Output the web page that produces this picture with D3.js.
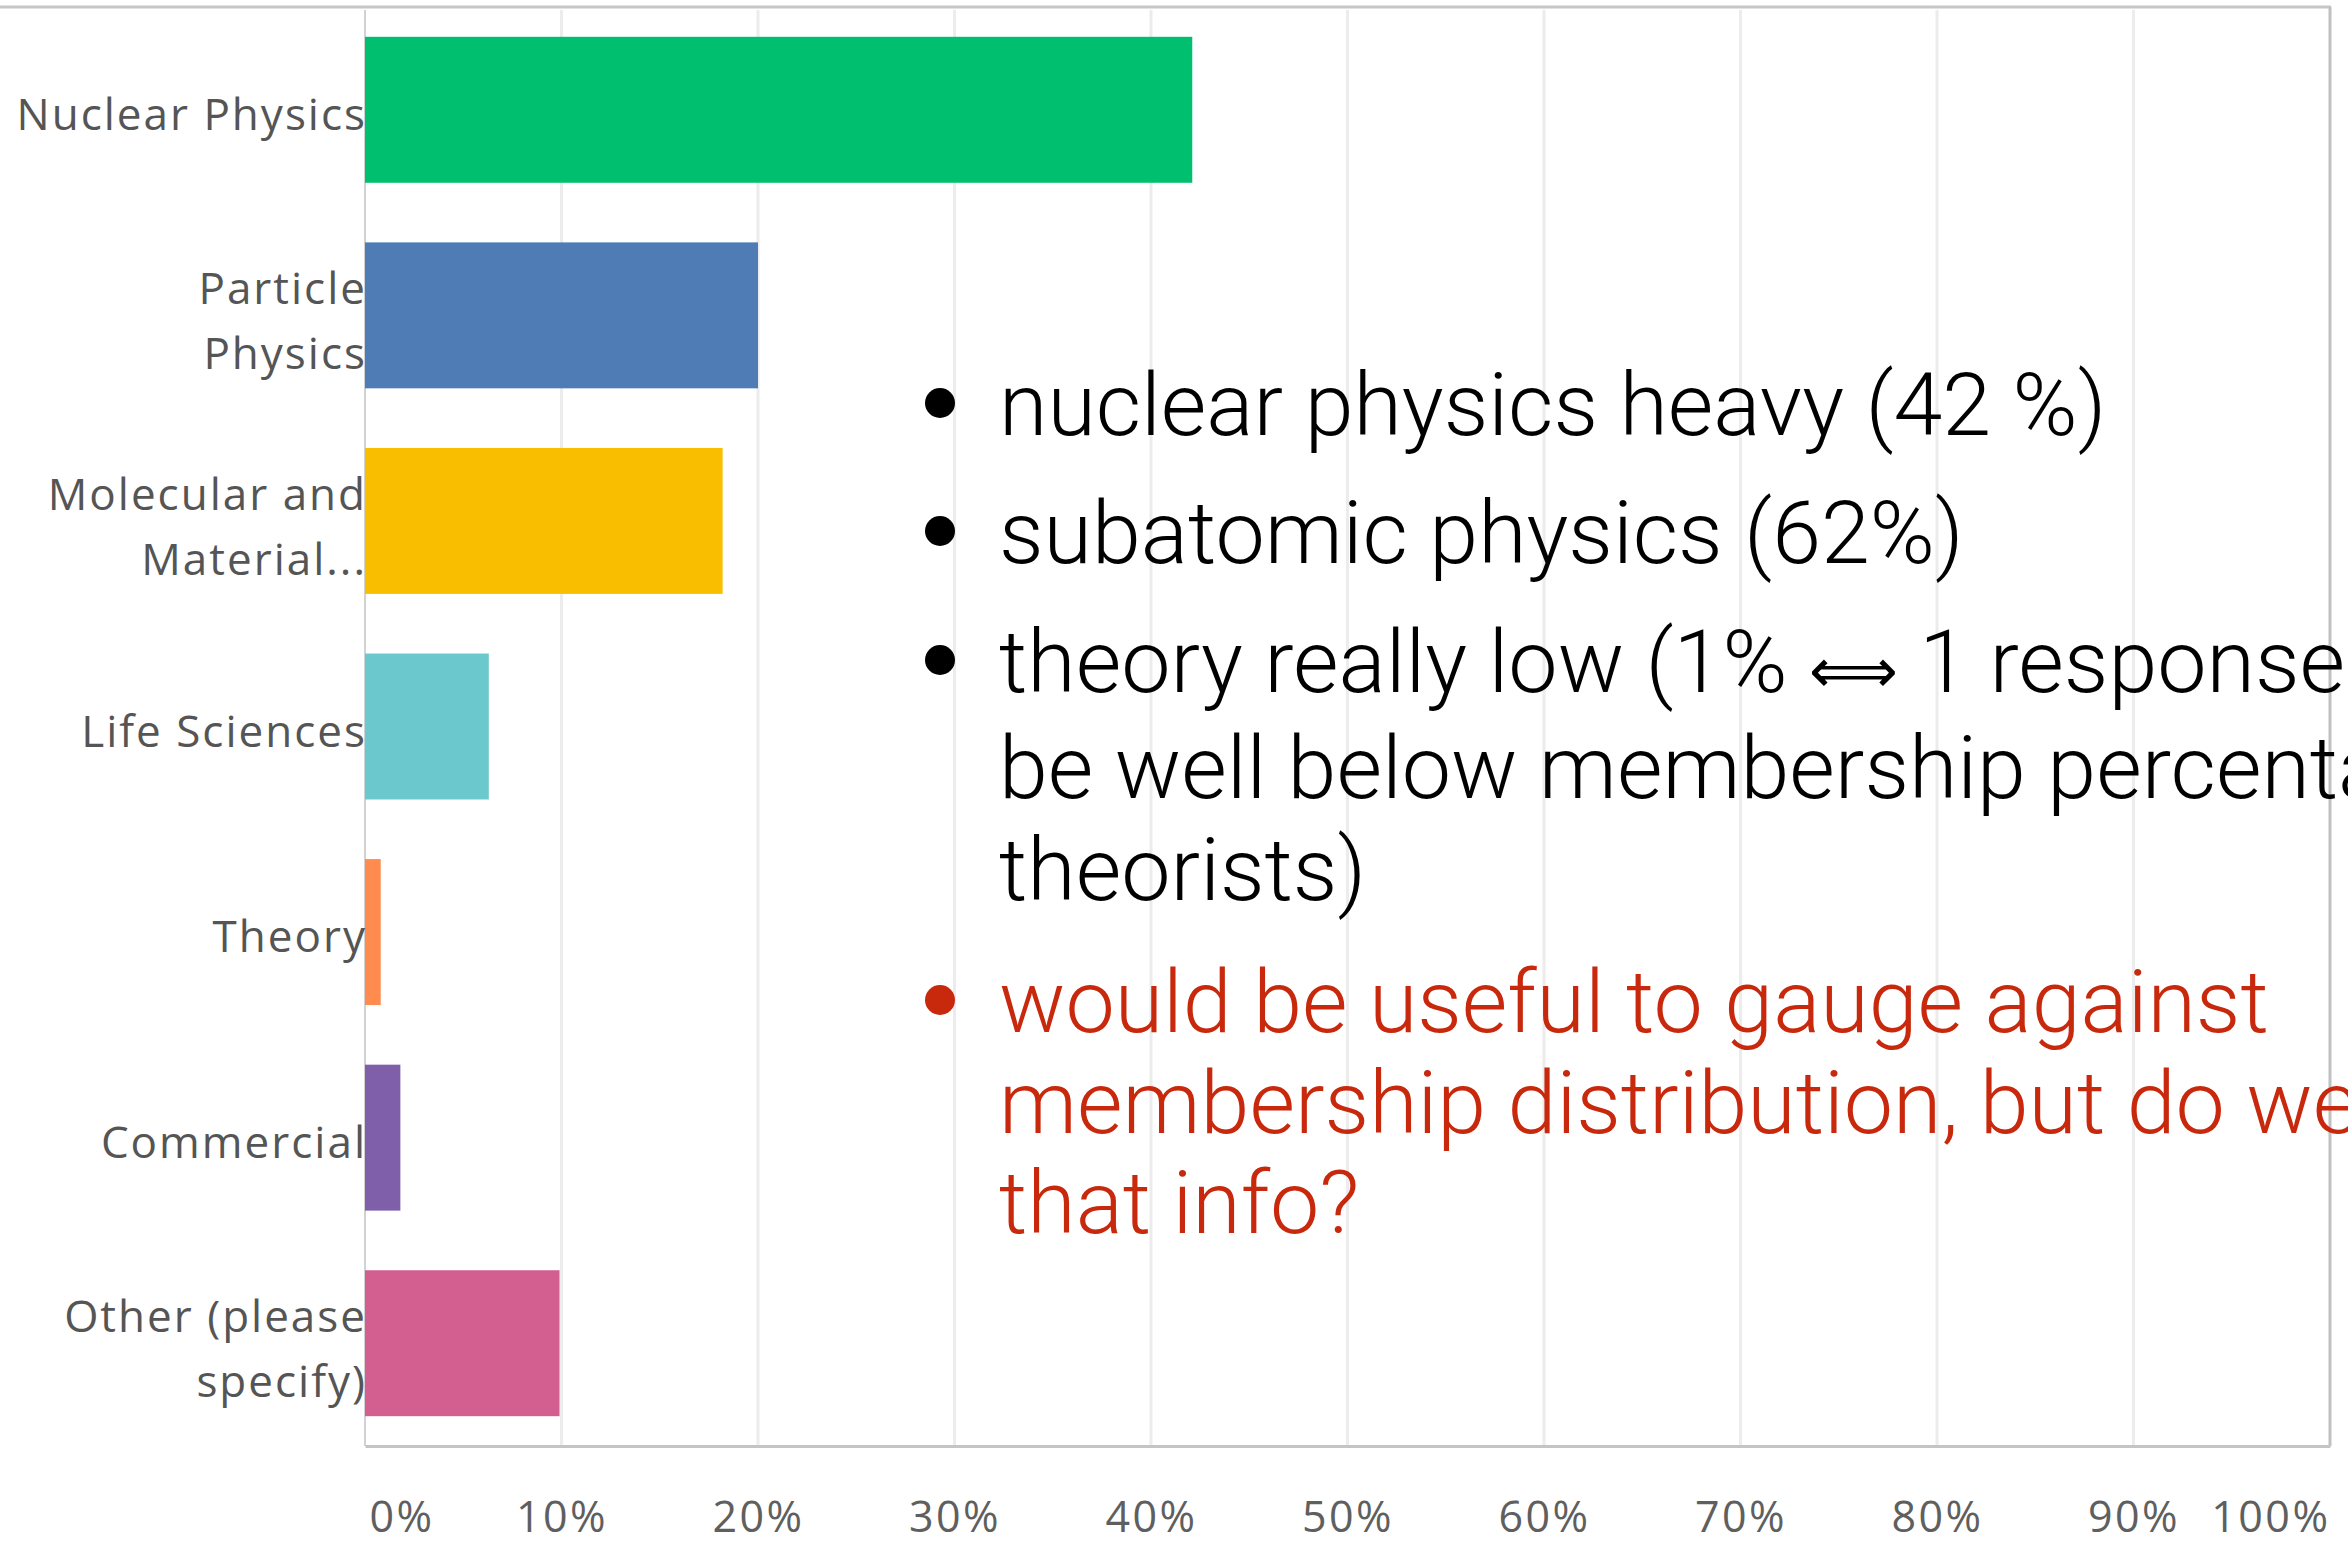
<!DOCTYPE html>
<html>
<head>
<meta charset="utf-8">
<script src="https://cdn.jsdelivr.net/npm/d3@7"></script>
<style>
  html, body { margin: 0; padding: 0; background: #fff; overflow: hidden; }
  svg { display: block; }
</style>
</head>
<body>
<svg id="chart" width="2348" height="1545"></svg>
<script>
// ---- data ----
const categories = ["Nuclear Physics", "Particle Physics", "Molecular and Material...", "Life Sciences", "Theory", "Commercial", "Other (please specify)"];
const categoryLines = [["Nuclear Physics"], ["Particle", "Physics"], ["Molecular and", "Material..."], ["Life Sciences"], ["Theory"], ["Commercial"], ["Other (please", "specify)"]];
const values = [42.1, 20.0, 18.2, 6.3, 0.8, 1.8, 9.9];
const barColors = ["#00bf6f", "#507cb6", "#f9be00", "#6bc8cd", "#ff8b4f", "#7f5fa9", "#d25f90"];
const tickValues = [0, 10, 20, 30, 40, 50, 60, 70, 80, 90, 100];
const tickLabels = ["0%", "10%", "20%", "30%", "40%", "50%", "60%", "70%", "80%", "90%", "100%"];
const notesBlack = [
  ["nuclear physics heavy (42 %)"],
  ["subatomic physics (62%)"],
  ["theory really low (1% \u27FA 1 response", "be well below membership percentage", "theorists)"]
];
const notesRed = [["would be useful to gauge against", "membership distribution, but do we", "that info?"]];

// ---- layout ----
const W = 2348, H = 1545;
const pLeft = 365, pRight = 2330, pTop = 7, pBottom = 1446;
const svg = d3.select("#chart");
svg.append("rect").attr("width", W).attr("height", H).attr("fill", "#fff");

const x = d3.scaleLinear().domain([0, 100]).range([pLeft, pRight]);
const y = d3.scaleBand().domain(categories).range([pTop, pBottom]).paddingInner(0.29).paddingOuter(0.145);

// grid lines
svg.append("g").selectAll("line").data(tickValues.slice(1, -1)).join("line")
  .attr("x1", d => x(d)).attr("x2", d => x(d))
  .attr("y1", pTop + 3).attr("y2", pBottom)
  .attr("stroke", "#ececec").attr("stroke-width", 3);

// frame: top line and right border (100%)
svg.append("line").attr("x1", 0).attr("x2", x(100) + 1).attr("y1", pTop).attr("y2", pTop)
  .attr("stroke", "#c6c6c6").attr("stroke-width", 3);
svg.append("line").attr("x1", x(100)).attr("x2", x(100)).attr("y1", pTop).attr("y2", pBottom)
  .attr("stroke", "#c0c0c0").attr("stroke-width", 3);

// left axis line
svg.append("line").attr("x1", x(0)).attr("x2", x(0)).attr("y1", pTop + 3).attr("y2", pBottom)
  .attr("stroke", "#d2d2d2").attr("stroke-width", 2);

// bars
svg.append("g").selectAll("rect").data(categories).join("rect")
  .attr("x", x(0))
  .attr("y", d => y(d))
  .attr("width", (d, i) => x(values[i]) - x(0))
  .attr("height", y.bandwidth())
  .attr("fill", (d, i) => barColors[i]);

// bottom axis
const xAxis = d3.axisBottom(x).tickValues(tickValues).tickSize(0).tickPadding(0)
  .tickFormat((d, i) => tickLabels[i]);
const ax = svg.append("g").attr("transform", `translate(0,${pBottom})`).call(xAxis);
ax.select(".domain").attr("stroke", "#c4c4c4").attr("stroke-width", 3);
ax.selectAll(".tick text")
  .attr("y", 86).attr("dy", 0)
  .attr("fill", "#5f5f5f")
  .style("font-family", "'Open Sans', sans-serif")
  .style("font-size", "43px")
  .style("letter-spacing", "2.5px")
  .attr("text-anchor", (d, i) => i === 0 ? "start" : (i === tickValues.length - 1 ? "end" : "middle"))
  .attr("dx", (d, i) => i === 0 ? 4 : 0);

// category labels
const lab = svg.append("g")
  .style("font-family", "'Open Sans', sans-serif")
  .style("font-size", "44px")
  .style("letter-spacing", "2px")
  .attr("fill", "#555");
categories.forEach((c, i) => {
  const lines = categoryLines[i];
  const cy = y(c) + y.bandwidth() / 2;
  const t = lab.append("text").attr("text-anchor", "end");
  if (lines.length === 1) {
    t.append("tspan").attr("x", x(0) + 2).attr("y", cy + 20).text(lines[0]);
  } else {
    lines.forEach((ln, j) => t.append("tspan").attr("x", x(0) + 2).attr("y", cy - 11 + j * 65).text(ln));
  }
});

// notes (bulleted text)
const noteX = 999, bulletX = 940;
const noteBaselines = [[435], [563], [692, 798, 900]];
const redBaselines = [[1032, 1133, 1233]];
const noteFont = "'Roboto', 'Liberation Sans', sans-serif";

function drawNotes(notes, baselines, color) {
  const g = svg.append("g").attr("fill", color)
    .style("font-family", noteFont).style("font-weight", 300).style("font-size", "88px");
  notes.forEach((lines, i) => {
    g.append("circle").attr("cx", bulletX).attr("cy", baselines[i][0] - 32).attr("r", 15).attr("fill", color);
    lines.forEach((ln, j) => {
      const t = g.append("text").attr("x", noteX).attr("y", baselines[i][j]);
      const parts = ln.split("\u27FA");
      parts.forEach((p, k) => {
        t.append("tspan").text(p);
        if (k < parts.length - 1) {
          t.append("tspan").style("font-family", "'DejaVu Sans', sans-serif").style("font-size", "62px")
            .style("font-weight", 400).text("\u27FA");
        }
      });
    });
  });
}
drawNotes(notesBlack, noteBaselines, "#000");
drawNotes(notesRed, redBaselines, "#c8280c");
</script>
</body>
</html>
